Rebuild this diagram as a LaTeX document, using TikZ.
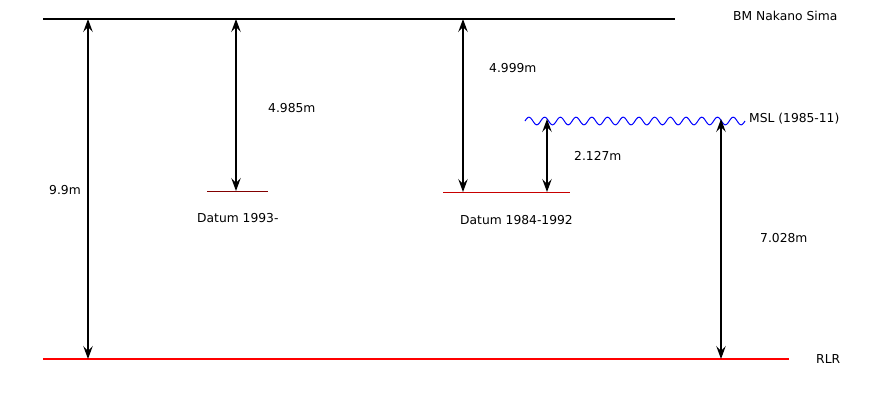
\documentclass[tikz,border=0pt]{standalone}
\usepackage{fontspec}
\setmainfont{DejaVu Sans}
\usetikzlibrary{arrows.meta}
\definecolor{datumold}{RGB}{200,0,0}
\definecolor{datumnew}{RGB}{130,0,0}
\tikzset{
    tip/.tip={Stealth[length=13pt,width=9.5pt,inset=5pt]},
    dim/.style={tip-tip, line width=1.1pt},
    lbl/.style={anchor=west, inner sep=0pt, font=\fontsize{12.3}{14}\selectfont},
}

\begin{document}
\begin{tikzpicture}[x=1pt,y=-1pt]
    \useasboundingbox (0,0) rectangle (875,400);
    \draw[line width=2pt] (43,19) coordinate (BMa) -- (675,19) coordinate (BMb);
    \draw[red, line width=2pt] (43,359) coordinate (RLRa) -- (789,359) coordinate (RLRb);
    \draw[datumnew, line width=1pt] (207,191) coordinate (Na) -- (268,191) coordinate (Nb);
    \draw[datumold, line width=1pt] (443,192) coordinate (Oa) -- (570,192) coordinate (Ob);
    \draw[blue, line width=1pt] plot[domain=525:745, samples=300, smooth]
        (\x, {121 - 3.8*sin((\x-525)/15.714*360)});

    \path (88,19) coordinate (BM1) (236,19) coordinate (BM2) (463,19) coordinate (BM3)
        (88,359) coordinate (RLR1) (721,359) coordinate (RLR2)
        (236,191) coordinate (N1) (463,192) coordinate (O1) (547,192) coordinate (O2)
        (547,119) coordinate (MSL1) (721,119) coordinate (MSL2);

    \draw[dim] (BM1) -- (RLR1);
    \draw[dim] (BM2) -- (N1);
    \draw[dim] (BM3) -- (O1);
    \draw[dim] (MSL1) -- (O2);
    \draw[dim] (MSL2) -- (RLR2);

    \node[lbl] (bmtext) at (733,16) {BM Nakano Sima};
    \node[lbl] (msltext) at (749,119) {MSL (1985-11)};
    \node[lbl] (rlrtext) at (816,359) {RLR};
    \node[lbl] (ntext) at (197,218) {Datum 1993-};
    \node[lbl] (otext) at (460,220) {Datum 1984-1992};
    \node[lbl] (h1) at (49,190) {9.9m};
    \node[lbl] (h2) at (268,108) {4.985m};
    \node[lbl] (h3) at (489,68) {4.999m};
    \node[lbl] (h4) at (574,156) {2.127m};
    \node[lbl] (h5) at (760,238) {7.028m};
\end{tikzpicture}
\end{document}
